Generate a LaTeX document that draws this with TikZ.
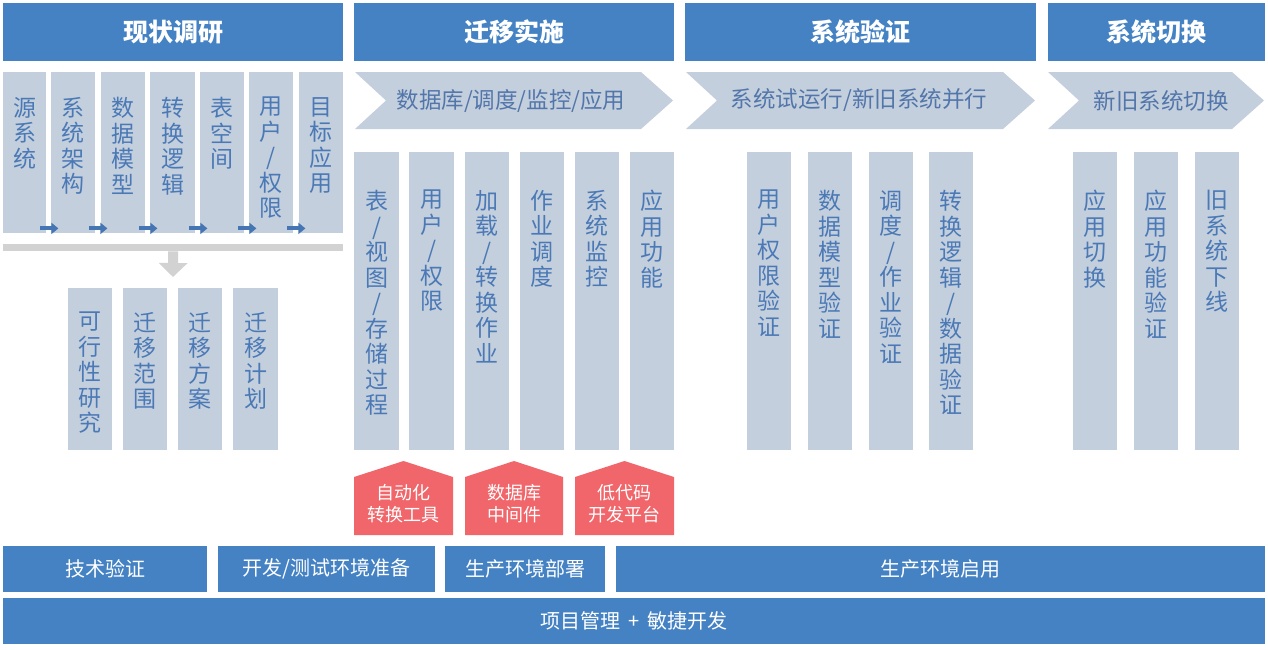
\documentclass[tikz,border=0pt]{standalone}
\usepackage{fontspec}
\setmainfont{Noto Sans CJK SC}
\usetikzlibrary{arrows.meta}
\definecolor{hdrblue}{RGB}{68,130,196}
\definecolor{colfill}{RGB}{196,207,221}
\definecolor{coltxt}{RGB}{74,121,182}
\definecolor{chevtxt}{RGB}{82,118,170}
\definecolor{arrblue}{RGB}{70,117,180}
\definecolor{grayc}{RGB}{210,210,210}
\definecolor{redc}{RGB}{240,102,106}
\newcommand\colnode[7]{%
  \node[colbox,minimum width={#4-#2},minimum height={#5-#3}] (#1) at (#2,#3) {};
  \node[coltext] (#1t) at ([yshift=-#6pt]#1.north) {#7};}
\newcommand\rbox[7]{%
  \node[#7,minimum width={#4-#2},minimum height={#5-#3}] (#1) at (#2,#3) {#6};}
\newcommand\chev[5]{%
  \fill[colfill] (#2,72) -- (#3-32,72) -- (#3,100.5) -- (#3-32,129) -- (#2,129) -- (#2+31,100.5) -- cycle;
  \node[chevtext] (#1) at (#4,100.5) {#5};}
\newcommand\house[5]{%
  \fill[redc] (#2,535) -- (#2,477) -- ({(#2+#3)/2},461) -- (#3,477) -- (#3,535) -- cycle;
  \node[housetext] (#1) at ({(#2+#3)/2},504) {#4\\#5};}
\begin{document}
\begin{tikzpicture}[x=1pt,y=-1pt,
  colbox/.style={fill=colfill,draw=none,anchor=north west,inner sep=0pt},
  coltext/.style={anchor=north,align=center,text=coltxt,inner sep=0pt,font=\fontsize{23}{25.5}\selectfont},
  hdr/.style={fill=hdrblue,draw=none,anchor=north west,inner sep=0pt,text=white,font=\fontsize{25}{28}\selectfont\bfseries},
  barbox/.style={fill=hdrblue,draw=none,anchor=north west,inner sep=0pt,text=white,font=\fontsize{20}{24}\selectfont},
  chevtext/.style={text=chevtxt,inner sep=0pt,font=\fontsize{22.5}{26}\selectfont},
  housetext/.style={text=white,align=center,inner sep=0pt,font=\fontsize{18}{22}\selectfont},
  smallarr/.style={draw=arrblue,line width=4pt,-{Triangle[length=7pt,width=11pt]}},
  bigarr/.style={draw=grayc,line width=10pt,-{Triangle[length=14pt,width=28pt]}}]
\fill[white] (0,0) rectangle (1268,649);
\useasboundingbox (0,0) rectangle (1268,649);

% headers
\rbox{h1}{3}{3}{343}{61}{现状调研}{hdr}
\rbox{h2}{354}{3}{674}{61}{迁移实施}{hdr}
\rbox{h3}{685}{3}{1036}{61}{系统验证}{hdr}
\rbox{h4}{1048}{3}{1265}{61}{系统切换}{hdr}

% section 1 upper columns
\colnode{u1}{3}{72}{46}{233}{25}{源\\系\\统}
\colnode{u2}{51}{72}{95}{233}{25}{系\\统\\架\\构}
\colnode{u3}{101}{72}{145}{233}{25}{数\\据\\模\\型}
\colnode{u4}{150}{72}{195}{233}{25}{转\\换\\逻\\辑}
\colnode{u5}{200}{72}{244}{233}{25}{表\\空\\间}
\colnode{u6}{249}{72}{293}{233}{25}{用\\户\\/\\权\\限}
\colnode{u7}{299}{72}{343}{233}{25}{目\\标\\应\\用}
\foreach \c in {u1,u2,u3,u4,u5,u6}{
  \draw[smallarr] ([xshift=-6pt,yshift=5pt]\c.south east) -- ([xshift=12pt,yshift=5pt]\c.south east);
}

% gray bar and down arrow
\rbox{gbar}{3}{244}{343}{251}{}{colbox,fill=grayc}
\coordinate (downtip) at (173,277);
\draw[bigarr] (gbar.south) -- (downtip);

% section 1 lower columns
\colnode{l1}{68}{288}{112}{450}{24}{可\\行\\性\\研\\究}
\colnode{l2}{123}{288}{167}{450}{24}{迁\\移\\范\\围}
\colnode{l3}{178}{288}{222}{450}{24}{迁\\移\\方\\案}
\colnode{l4}{233}{288}{278}{450}{24}{迁\\移\\计\\划}

% chevrons
\chev{c2}{355}{673}{511}{数据库/调度/监控/应用}
\chev{c3}{686}{1035}{859}{系统试运行/新旧系统并行}
\chev{c4}{1048}{1264}{1161}{新旧系统切换}

% section 2 columns
\colnode{m1}{354}{152}{399}{450}{38}{表\\/\\视\\图\\/\\存\\储\\过\\程}
\colnode{m2}{409}{152}{454}{450}{38}{用\\户\\/\\权\\限}
\colnode{m3}{465}{152}{509}{450}{38}{加\\载\\/\\转\\换\\作\\业}
\colnode{m4}{520}{152}{564}{450}{38}{作\\业\\调\\度}
\colnode{m5}{575}{152}{619}{450}{38}{系\\统\\监\\控}
\colnode{m6}{630}{152}{674}{450}{38}{应\\用\\功\\能}

% section 3 columns
\colnode{v1}{747}{152}{791}{450}{38}{用\\户\\权\\限\\验\\证}
\colnode{v2}{808}{152}{852}{450}{38}{数\\据\\模\\型\\验\\证}
\colnode{v3}{869}{152}{913}{450}{38}{调\\度\\/\\作\\业\\验\\证}
\colnode{v4}{929}{152}{973}{450}{38}{转\\换\\逻\\辑\\/\\数\\据\\验\\证}

% section 4 columns
\colnode{s1}{1073}{152}{1117}{450}{38}{应\\用\\切\\换}
\colnode{s2}{1134}{152}{1178}{450}{38}{应\\用\\功\\能\\验\\证}
\colnode{s3}{1195}{152}{1239}{450}{38}{旧\\系\\统\\下\\线}

% red tools
\house{t1}{354}{453}{自动化}{转换工具}
\house{t2}{465}{563}{数据库}{中间件}
\house{t3}{575}{674}{低代码}{开发平台}

% bottom bars
\rbox{b1}{3}{546}{207}{592}{技术验证}{barbox}
\rbox{b2}{218}{546}{435}{592}{开发/测试环境准备}{barbox}
\rbox{b3}{445}{546}{605}{592}{生产环境部署}{barbox}
\rbox{b4}{616}{546}{1265}{592}{生产环境启用}{barbox}
\rbox{b5}{3}{598}{1265}{644}{项目管理\hspace{0.4em}+\hspace{0.4em}敏捷开发}{barbox}
\end{tikzpicture}
\end{document}
